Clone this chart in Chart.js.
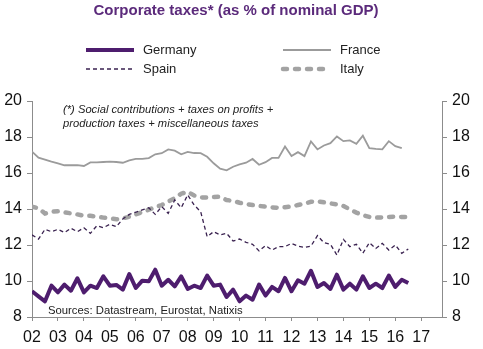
<!DOCTYPE html>
<html>
<head>
<meta charset="utf-8">
<script src="https://cdn.jsdelivr.net/npm/chart.js@4/dist/chart.umd.min.js"></script>
<style>
  html,body{margin:0;padding:0;background:#fff;}
  #chart{display:block;}
</style>
</head>
<body>
<canvas id="chart" width="483" height="349"></canvas>
<script>
/* ---------- DATA (% of nominal GDP, quarterly from 2002 Q1) ---------- */
const firstYear = 2002;
const yearTicks = [2002,2003,2004,2005,2006,2007,2008,2009,2010,2011,2012,2013,2014,2015,2016,2017];
const yearLabels = ["02","03","04","05","06","07","08","09","10","11","12","13","14","15","16","17"];

const germany = [9.43,9.15,8.87,9.74,9.37,9.80,9.46,10.15,9.37,9.74,9.61,10.26,9.74,9.78,9.52,10.39,
  9.61,10.02,9.98,10.63,9.74,10.07,9.70,10.26,9.56,9.74,9.61,10.30,9.74,9.80,9.11,9.52,
  8.87,9.19,8.96,9.80,9.19,9.67,9.43,10.17,9.43,10.04,9.85,10.57,9.67,9.89,9.56,10.35,
  9.52,9.85,9.52,10.26,9.61,9.85,9.61,10.30,9.67,10.07,9.89];

const france = [17.19,16.85,16.74,16.63,16.54,16.43,16.43,16.44,16.39,16.59,16.59,16.61,16.63,16.61,16.57,16.70,
  16.78,16.78,16.83,17.04,17.10,17.31,17.24,17.04,17.17,17.11,17.10,16.90,16.54,16.24,16.15,16.35,
  16.48,16.57,16.78,16.46,16.60,16.84,16.84,17.47,16.94,17.16,16.94,17.75,17.31,17.53,17.66,18.03,
  17.77,17.81,17.62,18.07,17.38,17.34,17.31,17.77,17.49,17.38,null];

const spain = [12.56,12.33,12.87,12.74,12.87,12.69,12.93,12.74,12.96,12.65,13.07,12.96,13.15,13.02,13.45,13.70,
  13.82,13.95,14.07,13.70,14.13,13.76,14.50,14.07,14.78,14.22,13.85,12.46,12.74,12.56,12.65,12.22,
  12.33,12.15,12.04,11.67,11.96,11.72,11.91,11.91,12.09,11.94,11.87,11.94,12.52,12.13,12.04,11.44,
  12.31,11.91,12.04,11.54,12.13,11.81,12.09,11.72,12.00,11.54,11.78];

const italy = [14.13,14.04,13.75,13.85,13.87,13.81,13.76,13.70,13.62,13.62,13.57,13.52,13.48,13.43,13.48,13.57,
  13.70,13.83,13.96,14.10,14.22,14.41,14.60,14.85,14.96,14.75,14.65,14.63,14.67,14.68,14.50,14.45,
  14.35,14.28,14.22,14.17,14.13,14.09,14.07,14.10,14.14,14.22,14.30,14.40,14.43,14.37,14.31,14.26,
  14.17,13.98,13.80,13.66,13.56,13.52,13.53,13.56,13.57,13.56,13.55];

const valueTicks = [8,10,12,14,16,18,20];

const titleText = "Corporate taxes* (as % of nominal GDP)";
const noteLines = ["(*) Social contributions + taxes on profits +", "production taxes + miscellaneous taxes"];
const sourceText = "Sources: Datastream, Eurostat, Natixis";

/* ---------- HELPERS ---------- */
const FONT = '"Liberation Sans", Arial, sans-serif';
const AXIS = "#8c8c8c";

function quarterly(values){
  return values.map((v,i)=>({x:firstYear + i/4, y:v}));
}

function fixedSize(prop, px){
  return s => { s[prop] = px; };
}

/* ---------- TITLE, LEGEND, NOTES ---------- */
const decorations = {
  id:"decorations",
  afterDraw(chart){
    const ctx = chart.ctx;
    ctx.save();

    ctx.fillStyle = "#5b2a7b";
    ctx.font = `bold 15px ${FONT}`;
    ctx.textAlign = "center";
    ctx.textBaseline = "middle";
    ctx.fillText(titleText, 236, 11);

    // two-column legend
    const slots = [[85,50],[282,50],[85,69],[282,69]];
    ctx.font = `13px ${FONT}`;
    ctx.textAlign = "left";
    chart.data.datasets.forEach((ds,i)=>{
      const [x,y] = slots[i];
      ctx.save();
      ctx.strokeStyle = ds.borderColor;
      ctx.lineWidth = ds.borderWidth;
      ctx.lineCap = ds.borderCapStyle || "butt";
      ctx.setLineDash(ds.borderDash || []);
      ctx.beginPath();
      ctx.moveTo(x+1,y);
      ctx.lineTo(x+49,y);
      ctx.stroke();
      ctx.restore();
      ctx.fillStyle = "#222";
      ctx.fillText(ds.label, x+58, y+0.5);
    });

    ctx.fillStyle = "#222";
    ctx.font = `italic 11.2px ${FONT}`;
    ctx.fillText(noteLines[0], 63, 110);
    ctx.fillText(noteLines[1], 63, 124);

    ctx.font = `11.3px ${FONT}`;
    ctx.fillText(sourceText, 48, 311);
    ctx.restore();
  }
};

/* ---------- CHART ---------- */
const yAxis = (position, width) => ({
  position,
  min:8, max:20,
  afterFit:fixedSize("width", width),
  afterBuildTicks:s=>{ s.ticks = valueTicks.map(v=>({value:v})); },
  grid:{drawOnChartArea:false, drawTicks:true, tickLength:5, tickColor:AXIS},
  border:{display:true, color:AXIS, width:1},
  ticks:{color:"#111", padding:5, font:{family:FONT, size:16}}
});

new Chart(document.getElementById("chart"),{
  type:"line",
  data:{
    datasets:[
      {label:"Germany", data:quarterly(germany), borderColor:"#4e1d6e", borderWidth:4, borderJoinStyle:"round", borderCapStyle:"butt"},
      {label:"France",  data:quarterly(france),  borderColor:"#9b9b9b", borderWidth:1.8},
      {label:"Spain",   data:quarterly(spain),   borderColor:"#3a2250", borderWidth:1.3, borderDash:[4,3]},
      {label:"Italy",   data:quarterly(italy),   borderColor:"#a3a3a3", borderWidth:4.5, borderDash:[4,8], borderCapStyle:"round"}
    ]
  },
  options:{
    responsive:false,
    animation:false,
    devicePixelRatio:1,
    layout:{padding:{top:101, bottom:0, left:0, right:0}},
    elements:{point:{radius:0}, line:{tension:0}},
    plugins:{legend:{display:false}, tooltip:{enabled:false}},
    scales:{
      x:{
        type:"linear",
        min:2002, max:2017.8,
        afterFit:fixedSize("height", 32),
        afterBuildTicks:s=>{ s.ticks = yearTicks.map(v=>({value:v})); },
        grid:{drawOnChartArea:false, drawTicks:true, tickLength:4, tickColor:AXIS},
        border:{display:true, color:AXIS, width:1},
        ticks:{
          color:"#111", padding:7, maxRotation:0, autoSkip:false,
          font:{family:FONT, size:16},
          callback:v=>yearLabels[yearTicks.indexOf(v)]
        }
      },
      y:yAxis("left", 32),
      y2:yAxis("right", 41)
    }
  },
  plugins:[decorations]
});
</script>
</body>
</html>
